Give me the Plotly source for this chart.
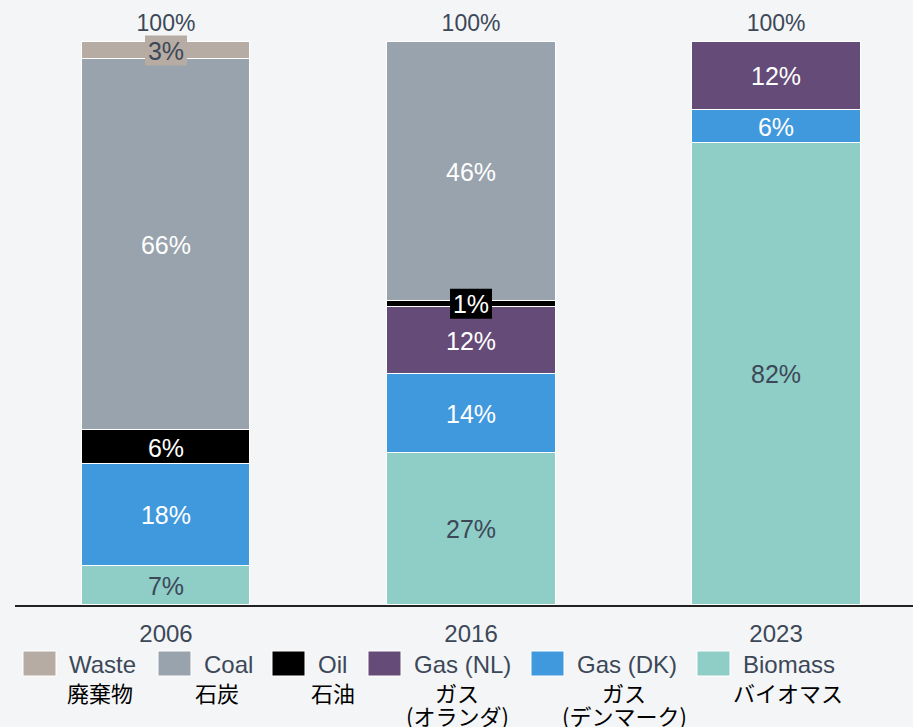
import plotly.graph_objects as go

# Fuel mix per year (percent of total)
years = ["2006", "2016", "2023"]
biomass = [7, 27, 82]
gas_dk = [18, 14, 6]
gas_nl = [0, 12, 12]
oil = [6, 1, 0]
coal = [66, 46, 0]
waste = [3, 0, 0]

names_en = ["Biomass", "Gas (DK)", "Gas (NL)", "Oil", "Coal", "Waste"]
names_ja = ["バイオマス", "ガス<br>(デンマーク)", "ガス<br>(オランダ)", "石油", "石炭", "廃棄物"]
values = [biomass, gas_dk, gas_nl, oil, coal, waste]

colors = ["#8fcdc7", "#4199dd", "#654b77", "#000000", "#98a3ad", "#b7aca4"]
label_colors = ["#3c4858", "#ffffff", "#ffffff", "#ffffff", "#ffffff", "#3c4858"]

TEXT = "#3c4858"
BG = "#f4f5f7"
FONT = "Liberation Sans, Arial, sans-serif"
JA_FONT = "Noto Sans CJK JP, sans-serif"

W, H = 913, 727
ML, MR, MT, MB = 15, 0, 0, 122
PW, PH = W - ML - MR, H - MT - MB
PX_PER_PCT = 5.63  # vertical pixels per percentage point

# small vertical nudges for the text, expressed in axis units
LABEL_NUDGE = -3 / PX_PER_PCT
TOTAL_NUDGE = 5 / PX_PER_PCT


def px(x):
    return (x - ML) / PW


def py(y):
    return (MT + PH - y) / PH


fig = go.Figure()
for name, vals, col in zip(names_en, values, colors):
    fig.add_trace(go.Bar(
        x=years, y=vals, name=name, width=0.554,
        marker=dict(color=col, line=dict(color="white", width=1.5)),
        showlegend=False, hovertemplate="%{x}: %{y}%<extra>" + name + "</extra>",
    ))

# segment labels at the middle of each stacked segment
lab_x, lab_y, lab_t, lab_c = [], [], [], []
box_x, box_y, box_c = [], [], []
tot_x, tot_y, tot_t = [], [], []
for i, yr in enumerate(years):
    base = 0
    for vals, col, lc in zip(values, colors, label_colors):
        v = vals[i]
        if v > 0:
            mid = base + v / 2
            lab_x.append(yr)
            lab_y.append(mid + LABEL_NUDGE)
            lab_t.append(f"{v}%")
            lab_c.append(lc)
            if v < 5:  # thin segment: give the label a filled box
                box_x.append(yr)
                box_y.append(mid)
                box_c.append(col)
        base += v
    tot_x.append(yr)
    tot_y.append(base + TOTAL_NUDGE)
    tot_t.append(f"{base}%")

fig.add_trace(go.Scatter(
    x=box_x, y=box_y, mode="markers", showlegend=False, hoverinfo="skip",
    marker=dict(symbol="line-ew", size=30, color=box_c,
                line=dict(color=box_c, width=30)),
    cliponaxis=False,
))
fig.add_trace(go.Scatter(
    x=lab_x, y=lab_y, mode="text", text=lab_t, showlegend=False, hoverinfo="skip",
    textposition="middle center",
    textfont=dict(family=FONT, size=25, color=lab_c),
    cliponaxis=False,
))
fig.add_trace(go.Scatter(
    x=tot_x, y=tot_y, mode="text", text=tot_t, showlegend=False, hoverinfo="skip",
    textposition="top center",
    textfont=dict(family=FONT, size=23, color=TEXT),
    cliponaxis=False,
))

# legend drawn beneath the axis: swatch, English name, Japanese name
annotations = []
legend_order = [5, 4, 3, 2, 1, 0]
swatch_left = [23, 158, 272, 368, 531, 697]
ja_center = [100, 217, 333, 457, 624, 788]
ja_line_y = [692, 715]
shapes = []
for k, idx in enumerate(legend_order):
    x0 = swatch_left[k]
    shapes.append(dict(type="rect", xref="paper", yref="paper",
                       x0=px(x0), x1=px(x0 + 33), y0=py(676), y1=py(651),
                       fillcolor=colors[idx], line=dict(color="white", width=1)))
    annotations.append(dict(x=px(x0 + 44), y=py(664), xref="paper", yref="paper",
                            text=names_en[idx], showarrow=False,
                            xanchor="left", yanchor="middle",
                            font=dict(family=FONT, size=24, color=TEXT)))
    for line, ly in zip(names_ja[idx].split("<br>"), ja_line_y):
        annotations.append(dict(x=px(ja_center[k]), y=py(ly), xref="paper", yref="paper",
                                text=line, showarrow=False,
                                xanchor="center", yanchor="middle",
                                font=dict(family=JA_FONT, size=22, color="#000000")))

fig.update_layout(
    barmode="stack",
    width=W, height=H,
    margin=dict(l=ML, r=MR, t=MT, b=MB),
    paper_bgcolor=BG, plot_bgcolor=BG,
    xaxis=dict(type="category", range=[-0.495, 2.449], showgrid=False,
               showline=True, linecolor="#222222", linewidth=1.5,
               ticks="", tickfont=dict(family=FONT, size=24, color=TEXT),
               ticklabelstandoff=6),
    yaxis=dict(range=[0, PH / PX_PER_PCT], showgrid=False, zeroline=False,
               showline=False, showticklabels=False, ticks=""),
    annotations=annotations,
    shapes=shapes,
    bargap=0,
)

fig.write_html("out.html")
